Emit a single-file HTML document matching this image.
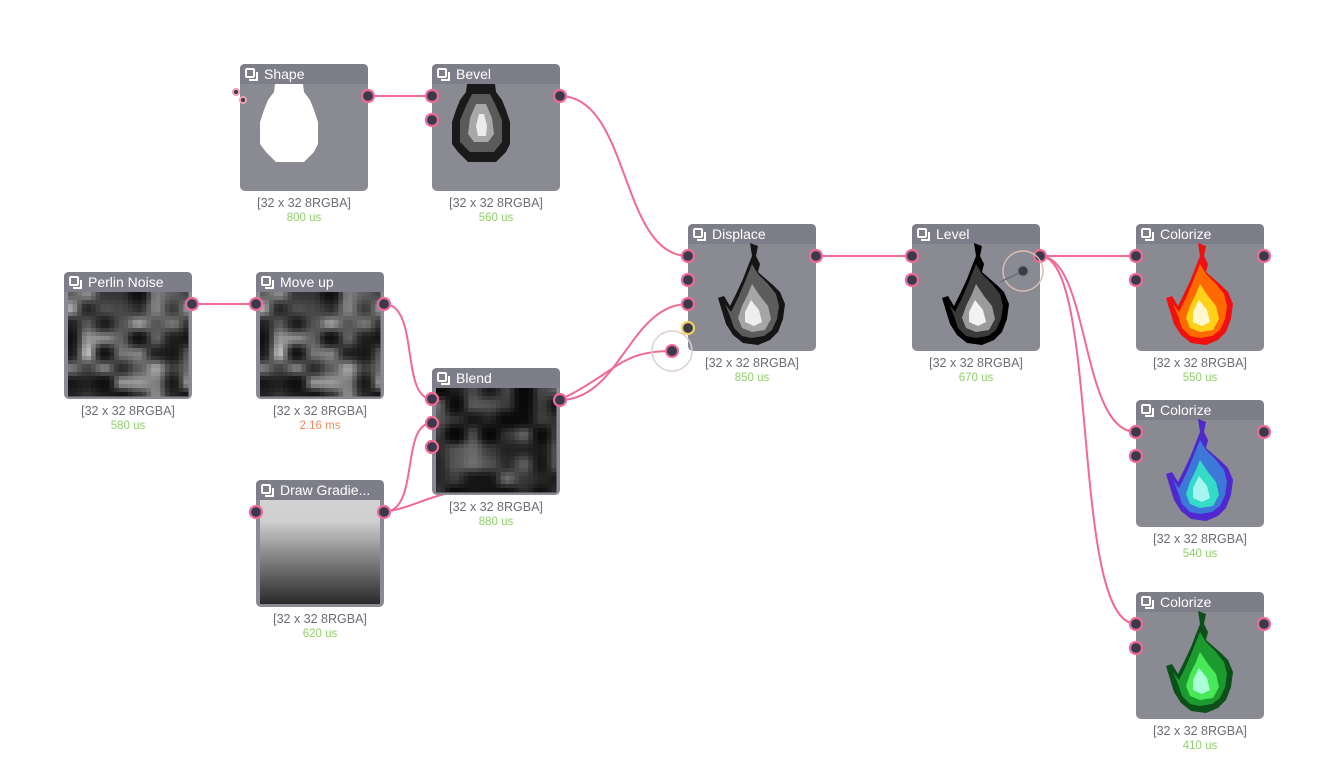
<!DOCTYPE html>
<html><head><meta charset="utf-8"><style>
html,body{margin:0;padding:0;background:#fff;width:1328px;height:784px;overflow:hidden}
svg text{font-family:"Liberation Sans","DejaVu Sans",sans-serif}
</style></head><body>
<svg id="s" width="1328" height="784" viewBox="0 0 1328 784" xmlns="http://www.w3.org/2000/svg">
<defs>
<linearGradient id="grad" x1="0" y1="0" x2="0" y2="1">
<stop offset="0" stop-color="#d2d2d2"/><stop offset="0.2" stop-color="#cfcfcf"/><stop offset="0.6" stop-color="#7a7a7a"/><stop offset="1" stop-color="#2a2a2a"/></linearGradient>
<g id="icon"><rect x="1" y="1" width="8" height="8" rx="1" fill="none" stroke="#fff" stroke-width="2"/><path d="M12 4 V12 H4" fill="none" stroke="#fff" stroke-width="2"/></g>
<path id="f1" d="M62,19 L70,22 L68,32 L72,40 L70,48 L78,55 L86,62 L92,68 L97,80 L95,95 L90,108 L82,116 L70,121 L55,119 L45,111 L38,100 L30,74 L36,72 L42,82 L48,70 L55,55 L60,42 L64,32 Z"/>
<path id="f2" d="M64,40 L70,50 L80,60 L88,70 L91,82 L89,95 L84,106 L76,112 L64,114 L54,112 L46,104 L42,92 L37,80 L43,88 L50,74 L56,60 Z"/>
<path id="f3" d="M64,60 L72,72 L80,82 L83,95 L77,106 L64,108 L54,104 L50,94 L54,82 L60,70 Z"/>
<path id="f4" d="M63,76 L71,86 L74,98 L66,102 L57,98 L57,88 Z"/>
<path id="d1" d="M35,20 L63,20 L64,28 L70,36 L74,46 L78,58 L78,80 L74,88 L64,98 L36,98 L26,88 L20,80 L20,58 L24,46 L28,36 L34,28 Z"/>
<path id="d2" d="M40,30 L58,30 L64,42 L70,56 L70,78 L62,88 L38,88 L28,78 L28,56 L34,42 Z"/>
<path id="d3" d="M44,40 L54,40 L60,54 L62,70 L56,78 L42,78 L36,70 L38,54 Z"/>
<path id="d4" d="M47,50 L52,50 L55,62 L54,72 L46,72 L44,62 Z"/>
</defs>

<g fill="none" stroke="#f06a95" stroke-width="2">
<path d="M368 96 H432"/>
<path d="M560 96 C630 96 620 256 688 256"/>
<path d="M192 304 H256"/>
<path d="M384 304 C420 304 400 399 432 399"/>
<path d="M384 512 C420 512 400 423 432 423"/>
<path d="M384 512 C410 508 420 500 445 494"/>
<path d="M560 400 C620 400 630 304 688 304"/>
<path d="M560 400 C620 370 620 351 672 351"/>
<path d="M816 256 H912"/>
<path d="M1040 256 H1136"/>
<path d="M1040 256 C1090 256 1080 432 1136 432"/>
<path d="M1040 256 C1100 256 1070 624 1136 624"/>
</g>

<g id="nodes"></g>

<circle cx="672" cy="351" r="20" fill="none" stroke="#ddd0cc" stroke-width="1.5"/>
<circle cx="1023" cy="271" r="20" fill="none" stroke="#d8bdb5" stroke-width="1.5"/>
<path d="M1023 271 L1000 282" stroke="#6a6a78" stroke-width="1.5"/>
<circle cx="1023" cy="271" r="5" fill="#3a3a4c" stroke="#777" stroke-width="1"/>
<circle cx="672" cy="351" r="6" fill="#3a3a4c" stroke="#f06a95" stroke-width="2"/>
<circle cx="236" cy="92" r="3" fill="#3a3a4c" stroke="#f0a0b5" stroke-width="2"/>
<circle cx="243" cy="100" r="3" fill="#3a3a4c" stroke="#f0a0b5" stroke-width="2"/>
</svg>
<script>
var NS="http://www.w3.org/2000/svg",G=document.getElementById("nodes");
function el(t,a,p){var e=document.createElementNS(NS,t);for(var k in a)e.setAttribute(k,a[k]);(p||G).appendChild(e);return e;}
function txt(x,y,s,a,p){var t=el("text",a,p);t.setAttribute("x",x);t.setAttribute("y",y);t.textContent=s;return t;}
var seed=7;function rnd(){seed=(seed*9301+49297)%233280;return seed/233280;}
function noise(g,x,y,w,h,base,amp){var N=7,v=[];for(var i=0;i<=N;i++){v[i]=[];for(var j=0;j<=N;j++)v[i][j]=rnd();}
 var c=26,cw=w/c,ch=h/c;for(var a=0;a<c;a++)for(var b=0;b<c;b++){var fx=a/c*N,fy=b/c*N,ix=Math.floor(fx),iy=Math.floor(fy),tx=fx-ix,ty=fy-iy;
 tx=tx*tx*(3-2*tx);ty=ty*ty*(3-2*ty);var n=(v[ix][iy]*(1-tx)+v[ix+1][iy]*tx)*(1-ty)+(v[ix][iy+1]*(1-tx)+v[ix+1][iy+1]*tx)*ty;
 var l=Math.max(0,Math.min(255,Math.round(base+n*n*amp)));el("rect",{x:(x+a*cw).toFixed(2),y:(y+b*ch).toFixed(2),width:(cw+0.5).toFixed(2),height:(ch+0.5).toFixed(2),fill:"rgb("+l+","+l+","+l+")"},g);}}
function port(x,y,col){el("circle",{cx:x,cy:y,r:6,fill:"#3a3a4c",stroke:col||"#f06a95","stroke-width":2.2});}
function node(o){var g=el("g",{transform:"translate("+o.x+","+o.y+")"});
 el("rect",{x:0,y:0,width:128,height:127,rx:5,ry:5,fill:"#8a8a93"},g);
 el("path",{d:"M0 20 V5 Q0 0 5 0 H123 Q128 0 128 5 V20 Z",fill:"#7e7d8a"},g);
 if(o.img=="noise"){el("rect",{x:4,y:20,width:120,height:104,fill:"#222"},g);var sg=el("g",{},g);noise(sg,4,20,120,104,o.b||15,o.a||190);}
 if(o.img=="grad"){el("rect",{x:4,y:20,width:120,height:104,fill:"url(#grad)"},g);}
 el("use",{href:"#icon",transform:"translate(5,4)"},g);
 txt(24,15,o.t,{fill:"#fff","font-size":"14"},g);
 if(o.draw)o.draw(g);
 (o.ins||[]).forEach(function(p){port(o.x+(p.x||0),o.y+p.y,p.c);});
 if(o.out)port(o.x+128,o.y+32);
 txt(o.x+64,o.y+143,"[32 x 32 8RGBA]",{fill:"#6c6b78","font-size":"12.5","text-anchor":"middle"});
 txt(o.x+64,o.y+157,o.ms,{fill:o.mc||"#8fd06a","font-size":"11.5","text-anchor":"middle"});}
function layers(g,ids,cols){ids.forEach(function(id,i){el("use",{href:"#"+id,fill:cols[i]},g);});}
var F=["f1","f2","f3","f4"],D=["d1","d2","d3","d4"];
node({x:240,y:64,t:"Shape",ms:"800 us",out:1,draw:function(g){el("use",{href:"#d1",fill:"#fff"},g);}});
node({x:432,y:64,t:"Bevel",ms:"560 us",out:1,ins:[{y:32},{y:56}],draw:function(g){layers(g,D,["#1a1a1a","#5a5a5a","#a8a8a8","#ececec"]);}});
node({x:688,y:224,t:"Displace",ms:"850 us",out:1,ins:[{y:32},{y:56},{y:80},{y:104,c:"#f0d060"}],draw:function(g){layers(g,F,["#151515","#5c5c5c","#a5a5a5","#eeeeee"]);}});
node({x:912,y:224,t:"Level",ms:"670 us",out:1,ins:[{y:32},{y:56}],draw:function(g){layers(g,F,["#000","#3a3a3a","#9a9a9a","#f2f2f2"]);}});
node({x:1136,y:224,t:"Colorize",ms:"550 us",out:1,ins:[{y:32},{y:56}],draw:function(g){layers(g,F,["#f01010","#ff6a00","#ffd21a","#fff8d0"]);}});
node({x:1136,y:400,t:"Colorize",ms:"540 us",out:1,ins:[{y:32},{y:56}],draw:function(g){layers(g,F,["#5028d0","#3c78d8","#34dcc8","#a8f4f0"]);}});
node({x:1136,y:592,t:"Colorize",ms:"410 us",out:1,ins:[{y:32},{y:56}],draw:function(g){layers(g,F,["#0a5018","#1c9a30","#48e858","#a8ffd8"]);}});
seed=11;node({x:64,y:272,t:"Perlin Noise",ms:"580 us",out:1,img:"noise"});
seed=11;node({x:256,y:272,t:"Move up",ms:"2.16 ms",mc:"#f08a5d",out:1,ins:[{y:32}],img:"noise"});
seed=23;node({x:432,y:368,t:"Blend",ms:"880 us",out:1,ins:[{y:31},{y:55},{y:79}],img:"noise",b:8,a:110});
node({x:256,y:480,t:"Draw Gradie...",ms:"620 us",out:1,ins:[{y:32}],img:"grad"});
</script>
</body></html>
